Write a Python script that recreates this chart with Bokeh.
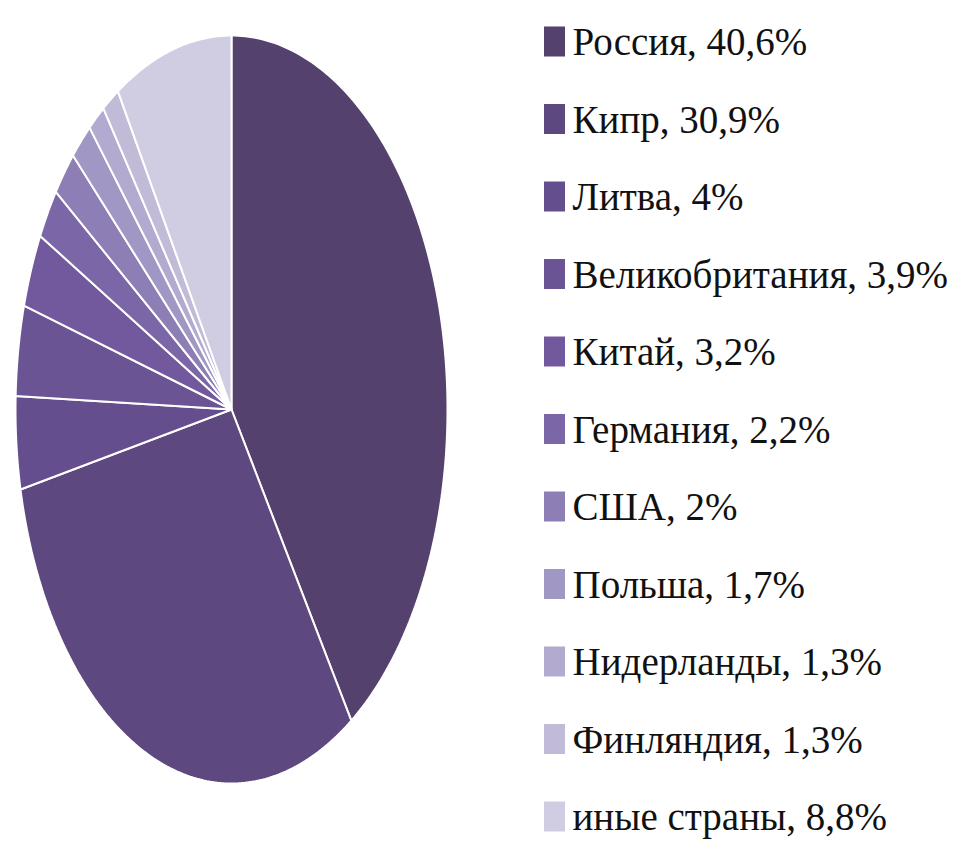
import numpy as np
from bokeh.plotting import figure
from bokeh.models import Range1d, ColumnDataSource
from bokeh.embed import file_html
from bokeh.resources import INLINE

# ---- data ----
countries = ["Россия", "Кипр", "Литва", "Великобритания", "Китай", "Германия",
             "США", "Польша", "Нидерланды", "Финляндия", "иные страны"]
shares = [40.6, 30.9, 4, 3.9, 3.2, 2.2, 2, 1.7, 1.3, 1.3, 8.8]
colors = ["#54416D", "#5D487F", "#654E8D", "#6B5494", "#72599E", "#7B66A8",
          "#8D7EB5", "#A197C4", "#B2AACF", "#C1BBD8", "#D0CCE1"]

def fmt(v):
    s = ("%g" % v).replace(".", ",")
    return s + "%"

labels = [f"{c}, {fmt(v)}" for c, v in zip(countries, shares)]

W, H = 960, 842
p = figure(width=W, height=H, output_backend="svg", toolbar_location=None,
           x_range=Range1d(0, W), y_range=Range1d(H, 0),
           min_border=0, outline_line_color=None, background_fill_color="white",
           border_fill_color="white")
p.axis.visible = False
p.grid.visible = False

cx, cy, rx, ry = 231, 409, 216, 374

total = sum(shares)
fr = np.cumsum([0] + shares) / total
xs, ys = [], []
for i in range(len(shares)):
    a0, a1 = 2 * np.pi * fr[i], 2 * np.pi * fr[i + 1]
    n = max(4, int((a1 - a0) / (2 * np.pi) * 400))
    t = np.linspace(a0, a1, n)
    px = np.concatenate([[cx], cx + rx * np.sin(t), [cx]])
    py = np.concatenate([[cy], cy - ry * np.cos(t), [cy]])
    xs.append(list(px))
    ys.append(list(py))

src = ColumnDataSource(dict(xs=xs, ys=ys, color=colors))
p.patches("xs", "ys", fill_color="color", line_color="white", line_width=2,
          source=src)

row0, step = 41, 77.5
ly = [row0 + i * step for i in range(len(labels))]
leg = ColumnDataSource(dict(x=[554] * len(labels), tx=[572] * len(labels),
                            y=ly, color=colors, label=labels,
                            font=["Liberation Serif"] * len(labels)))
p.rect("x", "y", width=21, height=30, fill_color="color", line_color=None,
       source=leg)
p.text("tx", "y", text="label", source=leg, text_font="font",
       text_font_size="39px", text_baseline="middle", text_align="left",
       text_color="#111111")

open("out.html", "w").write(file_html(p, INLINE))
